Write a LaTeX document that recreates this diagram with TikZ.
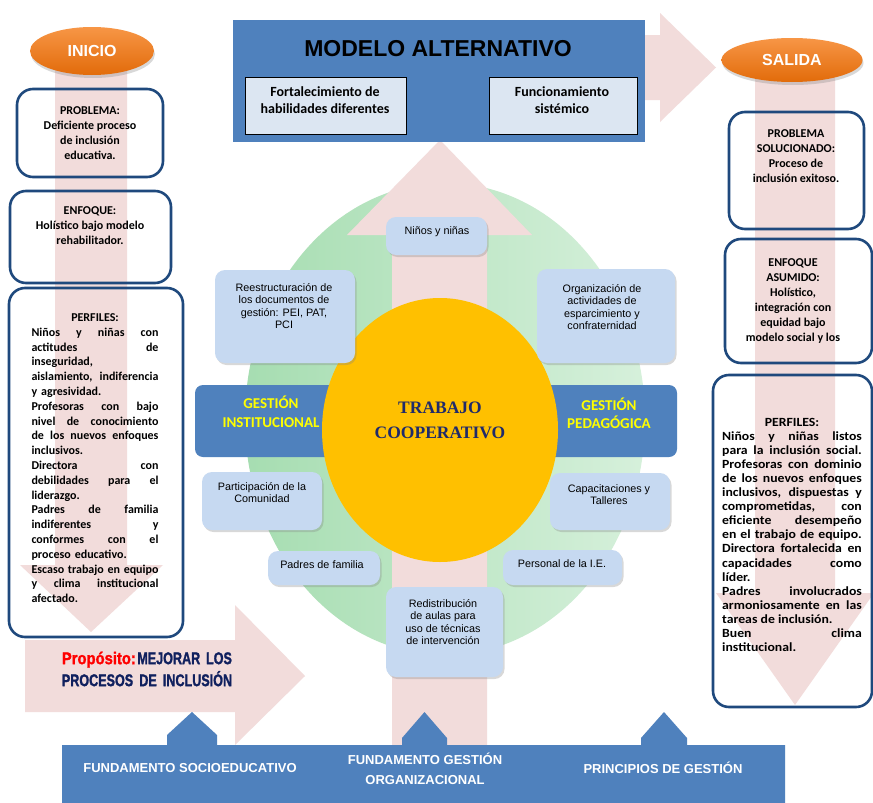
\documentclass[tikz,border=0pt]{standalone}
\usepackage{fontspec}
\setmainfont{Liberation Sans}
\newfontfamily\calfont{Carlito}
\newfontfamily\serfont{Liberation Serif}
\newfontfamily\heavyfont[BoldFeatures={FakeBold=1.6}]{Liberation Sans}
\usetikzlibrary{shapes.geometric,shadows}
\definecolor{pinkA}{HTML}{F2DCDB}
\definecolor{blueA}{HTML}{4F81BD}
\definecolor{navyB}{HTML}{1F497D}
\definecolor{lblue}{HTML}{C6D9F1}
\definecolor{paleB}{HTML}{DCE6F2}
\definecolor{grA}{HTML}{A6DDB1}
\definecolor{grB}{HTML}{D6F0DB}
\definecolor{gold}{HTML}{FFC000}
\definecolor{orA}{HTML}{F79646}
\definecolor{orB}{HTML}{E26B0A}
\definecolor{navyT}{HTML}{1F2A6B}
\definecolor{navyP}{HTML}{10205E}
\definecolor{yelT}{HTML}{FFFF00}
\newcommand\JL[1]{{\spaceskip=0pt\xspaceskip=0pt\makebox[127pt][s]{#1}}}
\newcommand\JR[1]{{\spaceskip=0pt\xspaceskip=0pt\makebox[127pt][s]{#1}}}
\begin{document}
\begin{tikzpicture}[x=1pt,y=-1pt,
 colbox/.style={draw=navyB,line width=2.6pt,rounded corners=16pt,inner sep=0pt},
 lbox/.style={fill=lblue,rounded corners=10pt,inner sep=0pt,drop shadow={shadow xshift=1.5pt,shadow yshift=-2pt,opacity=0.3}},
 ltext/.style={font=\fontsize{10.8}{12.5}\selectfont,align=center,inner sep=0pt,anchor=north},
 ctext/.style={font=\calfont\bfseries\fontsize{12}{15}\selectfont,align=center,inner sep=0pt,anchor=north},
 oval/.style={ellipse,inner sep=0pt,top color=orA,bottom color=orB,text=white,font=\bfseries\fontsize{16}{18}\selectfont,drop shadow={shadow xshift=1pt,shadow yshift=-3pt,opacity=0.3}},
 gtext/.style={font=\calfont\bfseries\fontsize{15}{18.5}\selectfont,text=yelT,align=center,inner sep=0pt},
 btext/.style={font=\bfseries\fontsize{13}{20}\selectfont,text=white,align=center,inner sep=0pt},
 subbox/.style={draw=black,line width=0.8pt,fill=paleB,inner sep=0pt},
 subtext/.style={font=\calfont\bfseries\fontsize{14}{16.5}\selectfont,align=center,inner sep=0pt}
]
\useasboundingbox (0,0) rectangle (873,803);
\fill[white] (0,0) rectangle (873,803);
% green disc
\path[left color=grA,right color=grB] (445,419) ellipse [x radius=200pt,y radius=236pt];
% pink arrows
\fill[pinkA] (240,35) -- (660,35) -- (660,13) -- (716,67.5) -- (660,122) -- (660,100) -- (240,100) -- cycle;
\fill[pinkA] (55,60) -- (127,60) -- (127,565) -- (163,565) -- (91,632) -- (20,565) -- (55,565) -- cycle;
\fill[pinkA] (755,70) -- (835,70) -- (835,593) -- (874,593) -- (795,705) -- (716,593) -- (755,593) -- cycle;
\fill[pinkA] (392,745) -- (392,235) -- (347,235) -- (440,140) -- (532,235) -- (487,235) -- (487,745) -- cycle;
\fill[pinkA] (25,640) -- (235,640) -- (235,605) -- (305,676) -- (235,745) -- (235,712) -- (25,712) -- cycle;
% gestion bar and central disc
\node[fill=blueA,rounded corners=8pt,minimum width=482pt,minimum height=72pt,inner sep=0pt] (gbar) at (436,421) {};
\node[ellipse,fill=gold,minimum width=236pt,minimum height=264pt,inner sep=0pt] (coop) at (440,430) {};
\node[font=\serfont\bfseries\fontsize{17.5}{25}\selectfont,text=navyT,align=center,inner sep=0pt] (cooptext) at (440,420) {TRABAJO\\COOPERATIVO};
\node[gtext] (ginst) at (271,412) {GESTIÓN\\INSTITUCIONAL};
\node[gtext] (gped) at (609,413) {GESTIÓN\\PEDAGÓGICA};
% light blue boxes
\node[lbox,minimum width=101pt,minimum height=38pt] (ninos) at (436.5,236) {};
\node[ltext] (tninos) at (437,226) {Niños y niñas};
\node[lbox,minimum width=140pt,minimum height=93pt] (reest) at (285,316.5) {};
\node[ltext] (treest) at (284,283) {Reestructuración de\\los documentos de\\gestión: PEI, PAT,\\PCI};
\node[lbox,minimum width=138pt,minimum height=94pt] (orga) at (606,316) {};
\node[ltext] (torga) at (602,284) {Organización de\\actividades de\\esparcimiento y\\confraternidad};
\node[lbox,minimum width=120pt,minimum height=58pt] (parti) at (262,501) {};
\node[ltext] (tparti) at (262,482) {Participación de la\\Comunidad};
\node[lbox,minimum width=120pt,minimum height=57pt] (capa) at (610,501.5) {};
\node[ltext] (tcapa) at (609,484) {Capacitaciones y\\Talleres};
\node[lbox,minimum width=112pt,minimum height=34pt] (padres) at (324,568) {};
\node[ltext] (tpadres) at (322,560) {Padres de familia};
\node[lbox,minimum width=119pt,minimum height=35pt] (perso) at (562.5,567.5) {};
\node[ltext] (tperso) at (562,559) {Personal de la I.E.};
\node[lbox,minimum width=117pt,minimum height=90pt] (redis) at (444.5,632) {};
\node[ltext] (tredis) at (443,599) {Redistribución\\de aulas para\\uso de técnicas\\de intervención};
% modelo alternativo
\node[fill=blueA,minimum width=412pt,minimum height=122pt,inner sep=0pt] (modelo) at (439,81) {};
\node[font=\bfseries\fontsize{23}{27}\selectfont,inner sep=0pt] (modtitle) at (438,48.5) {MODELO ALTERNATIVO};
\node[subbox,minimum width=161pt,minimum height=57pt] (fort) at (325.5,105.5) {};
\node[subbox,minimum width=148pt,minimum height=57pt] (func) at (563,105.5) {};
\node[subtext] (tfort) at (325,100) {Fortalecimiento de\\habilidades diferentes};
\node[subtext] (tfunc) at (562,100) {Funcionamiento\\sistémico};
% ovals
\node[oval,minimum width=124pt,minimum height=48pt] (inicio) at (92,51) {INICIO};
\node[oval,minimum width=141pt,minimum height=44pt] (salida) at (792,60) {SALIDA};
% column boxes
\node[colbox,minimum width=146pt,minimum height=88pt] (probL) at (90,133) {};
\node[colbox,minimum width=161pt,minimum height=92pt] (enfL) at (90.5,237) {};
\node[colbox,minimum width=174pt,minimum height=349pt] (perfL) at (96,462.5) {};
\node[colbox,minimum width=135pt,minimum height=117pt] (probR) at (796.5,170.5) {};
\node[colbox,minimum width=147pt,minimum height=124pt] (enfR) at (798.5,301) {};
\node[colbox,minimum width=159pt,minimum height=332pt] (perfR) at (792.5,541) {};
% column texts
\node[ctext] (tprobL) at (90,106) {PROBLEMA:\\Deficiente proceso\\de inclusión\\educativa.};
\node[ctext] (tenfL) at (90,206) {ENFOQUE:\\Holístico bajo modelo\\rehabilitador.};
\node[ctext,font=\calfont\bfseries\fontsize{12}{14.8}\selectfont,text width=127pt,align=left] (tperfL) at (95,313.5) {\makebox[127pt][c]{PERFILES:}\\
\JL{Niños y niñas con}\\
\JL{actitudes de}\\
inseguridad,\\
\JL{aislamiento, indiferencia}\\
y agresividad.\\
\JL{Profesoras con bajo}\\
\JL{nivel de conocimiento}\\
\JL{de los nuevos enfoques}\\
inclusivos.\\
\JL{Directora con}\\
\JL{debilidades para el}\\
liderazgo.\\
\JL{Padres de familia}\\
\JL{indiferentes y}\\
\JL{conformes con el}\\
proceso educativo.\\
\JL{Escaso trabajo en equipo}\\
\JL{y clima institucional}\\
afectado.};
\node[ctext] (tprobR) at (796,129) {PROBLEMA\\SOLUCIONADO:\\Proceso de\\inclusión exitoso.};
\node[ctext] (tenfR) at (793,258) {ENFOQUE\\ASUMIDO:\\Holístico,\\integración con\\equidad bajo\\modelo social y los};
\node[ctext] (tperfR) at (792,418) {\scalebox{1.1}[1]{\parbox[t]{127pt}{\fontsize{12.5}{14.06}\selectfont\raggedright
\makebox[127pt][c]{PERFILES:}\\
\JR{Niños y niñas listos}\\
\JR{para la inclusión social.}\\
\JR{Profesoras con dominio}\\
\JR{de los nuevos enfoques}\\
\JR{inclusivos, dispuestas y}\\
\JR{comprometidas, con}\\
\JR{eficiente desempeño}\\
\JR{en el trabajo de equipo.}\\
\JR{Directora fortalecida en}\\
\JR{capacidades como}\\
líder.\\
\JR{Padres involucrados}\\
\JR{armoniosamente en las}\\
tareas de inclusión.\\
\JR{Buen clima}\\
institucional.}}};
% purpose text
\node[inner sep=0pt,align=left,font=\heavyfont\bfseries\fontsize{17}{22}\selectfont] (prop) at (147,669) {\makebox[170pt][l]{\scalebox{0.87}[1]{\textcolor{red}{Propósito:}}\hspace{1.5pt}\scalebox{0.74}[1]{\textcolor{navyP}{MEJORAR}}\hfill\scalebox{0.74}[1]{\textcolor{navyP}{LOS}}}\\\scalebox{0.74}[1]{{\spaceskip=0pt\makebox[230pt][s]{\textcolor{navyP}{PROCESOS DE INCLUSIÓN}}}}};
% bottom band
\fill[blueA] (62,745) -- (167,745) -- (167,735) -- (192,712) -- (217,735) -- (217,745) -- (402,745) -- (402,738) -- (424.5,712) -- (447,738) -- (447,745) -- (641,745) -- (641,738) -- (664,712) -- (687,738) -- (687,745) -- (785,745) -- (785,803) -- (62,803) -- cycle;
\node[btext] (fsoc) at (190,768) {FUNDAMENTO SOCIOEDUCATIVO};
\node[btext] (fges) at (425,769) {FUNDAMENTO GESTIÓN\\ORGANIZACIONAL};
\node[btext] (fpri) at (663,768) {PRINCIPIOS DE GESTIÓN};
\end{tikzpicture}
\end{document}
